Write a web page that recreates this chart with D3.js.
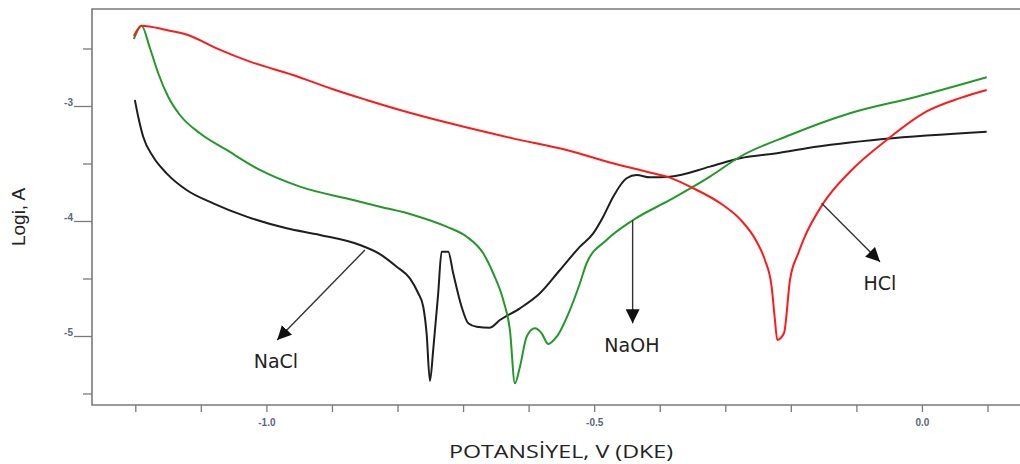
<!DOCTYPE html>
<html>
<head>
<meta charset="utf-8">
<script src="https://cdn.jsdelivr.net/npm/d3@7"></script>
<style>
  body { margin: 0; background: #fff; }
  svg { display: block; }
</style>
</head>
<body>
<svg id="chart" width="1020" height="464"></svg>
<script>
// potential (V) / log i readings for each solution
var hclV = [-1.2029, -1.1912, -1.1530, -1.1205, -1.0767, -1.0259, -0.9603, -0.8993, -0.8479, -0.7971, -0.7208, -0.6247, -0.5428, -0.4722, -0.4207, -0.3852, -0.3547, -0.3043, -0.2784, -0.2529, -0.2403, -0.2301, -0.2250, -0.2215, -0.2113, -0.2021, -0.1895, -0.1817, -0.1513, -0.1106, -0.0546, 0.0064, 0.0572, 0.0980]
var hclI = [-2.387, -2.297, -2.335, -2.378, -2.494, -2.610, -2.726, -2.850, -2.943, -3.030, -3.146, -3.277, -3.378, -3.494, -3.567, -3.619, -3.697, -3.857, -3.979, -4.176, -4.335, -4.567, -4.857, -5.030, -4.972, -4.509, -4.277, -4.161, -3.842, -3.567, -3.291, -3.043, -2.927, -2.857]

var naohV = [-1.2029, -1.1912, -1.1785, -1.1658, -1.1506, -1.1327, -1.1022, -1.0615, -1.0107, -0.9497, -0.8683, -0.8276, -0.7768, -0.7259, -0.6953, -0.6700, -0.6548, -0.6395, -0.6293, -0.6217, -0.6140, -0.6038, -0.5912, -0.5809, -0.5709, -0.5580, -0.5378, -0.5225, -0.5123, -0.4818, -0.4412, -0.3852, -0.3242, -0.2784, -0.2021, -0.1106, -0.0088, 0.0980]
var naohI = [-2.413, -2.297, -2.491, -2.711, -2.915, -3.074, -3.233, -3.378, -3.552, -3.697, -3.813, -3.871, -3.943, -4.045, -4.132, -4.277, -4.450, -4.683, -4.943, -5.407, -5.263, -5.002, -4.929, -4.972, -5.065, -5.002, -4.770, -4.537, -4.363, -4.161, -3.987, -3.813, -3.610, -3.437, -3.248, -3.059, -2.915, -2.746]

var naclV = [-1.2014, -1.1963, -1.1887, -1.1735, -1.1530, -1.1225, -1.0819, -1.0310, -0.9699, -0.9191, -0.8581, -0.8276, -0.8021, -0.7819, -0.7691, -0.7615, -0.7564, -0.7513, -0.7463, -0.7387, -0.7335, -0.7234, -0.7158, -0.7030, -0.6929, -0.6801, -0.6598, -0.6446, -0.6140, -0.5835, -0.5530, -0.5225, -0.5022, -0.4870, -0.4717, -0.4513, -0.4360, -0.4157, -0.3852, -0.3242, -0.2784, -0.2174, -0.1767, -0.0598, 0.0980]
var naclI = [-2.943, -3.089, -3.263, -3.437, -3.581, -3.726, -3.842, -3.958, -4.059, -4.117, -4.204, -4.283, -4.393, -4.494, -4.624, -4.741, -4.972, -5.387, -5.117, -4.624, -4.263, -4.263, -4.450, -4.741, -4.885, -4.915, -4.923, -4.857, -4.755, -4.624, -4.422, -4.219, -4.103, -3.958, -3.784, -3.624, -3.596, -3.616, -3.610, -3.523, -3.450, -3.402, -3.363, -3.283, -3.219]

// axis ticks
var xMajor = [-1.0, -0.5, 0.0]
var xTicks = [-1.2, -1.1, -1.0, -0.9, -0.8, -0.7, -0.6, -0.5, -0.4, -0.3, -0.2, -0.1, 0.0, 0.1]
var yMajor = [-3, -4, -5]
var yTicks = [-2.5, -3, -3.5, -4, -4.5, -5, -5.5]

// arrow labels: name, arrow start (V, logi), arrow tip, text spot
var noteNames = ['NaCl', 'NaOH', 'HCl']
var noteFrom = [[-0.8505, -4.248], [-0.4421, -3.987], [-0.1538, -3.842]]
var noteTo = [[-0.9843, -5.030], [-0.4421, -4.885], [-0.0648, -4.350]]
var noteText = [[-0.9863, -5.274], [-0.4432, -5.132], [-0.0648, -4.596]]

var svg = d3.select('#chart')
var m = { left: 92, right: 1020, top: 9, bottom: 405 }

var x = d3.scaleLinear().domain([-1.2668, 0.1488]).range([m.left, m.right])
var y = d3.scaleLinear().domain([-2.1522, -5.5957]).range([m.top, m.bottom])

var axisColor = '#7a7a7a'
var tickText = '#5b6680'

// frame (top, left, bottom)
svg.append('path')
  .attr('d', 'M' + m.right + ',' + m.top + 'H' + m.left + 'V' + m.bottom + 'H' + m.right)
  .attr('fill', 'none')
  .attr('stroke', axisColor)
  .attr('stroke-width', 1.6)

// y ticks
svg.selectAll('.ytick')
  .data(yTicks)
  .enter()
  .append('line')
  .attr('x1', (d) => yMajor.indexOf(d) >= 0 ? m.left - 18 : m.left - 9)
  .attr('x2', m.left)
  .attr('y1', (d) => y(d))
  .attr('y2', (d) => y(d))
  .attr('stroke', axisColor)
  .attr('stroke-width', 1.3)

svg.selectAll('.ylab')
  .data(yMajor)
  .enter()
  .append('text')
  .attr('x', 73)
  .attr('y', (d) => y(d) - 0.5)
  .attr('text-anchor', 'end')
  .style('font-family', 'Liberation Sans, Arial, sans-serif')
  .style('font-size', '10px')
  .style('font-weight', 'bold')
  .attr('fill', tickText)
  .text((d) => d)

// x ticks
svg.selectAll('.xtick')
  .data(xTicks)
  .enter()
  .append('line')
  .attr('x1', (d) => x(d))
  .attr('x2', (d) => x(d))
  .attr('y1', m.bottom)
  .attr('y2', m.bottom + 7)
  .attr('stroke', axisColor)
  .attr('stroke-width', 1.3)

svg.selectAll('.xlab')
  .data(xMajor)
  .enter()
  .append('text')
  .attr('x', (d) => x(d))
  .attr('y', 426)
  .attr('text-anchor', 'middle')
  .style('font-family', 'Liberation Sans, Arial, sans-serif')
  .style('font-size', '10px')
  .style('font-weight', 'bold')
  .attr('fill', tickText)
  .text((d) => d.toFixed(1))

// axis titles
svg.append('text')
  .attr('x', 561)
  .attr('y', 458)
  .attr('text-anchor', 'middle')
  .attr('textLength', 224)
  .attr('lengthAdjust', 'spacingAndGlyphs')
  .style('font-family', 'Open Sans, sans-serif')
  .style('font-size', '18px')
  .attr('fill', '#222')
  .text('POTANSİYEL, V (DKE)')

svg.append('text')
  .attr('transform', 'translate(25,217) rotate(-90)')
  .attr('text-anchor', 'middle')
  .style('font-family', 'Liberation Sans, Arial, sans-serif')
  .style('font-size', '19px')
  .attr('fill', '#222')
  .text('Logi, A')

// curves
var lineGen = d3.line()
  .x((d) => x(d[0]))
  .y((d) => y(d[1]))
  .curve(d3.curveMonotoneX)

var series = [
  { v: naclV, i: naclI, color: '#1e1e1e' },
  { v: naohV, i: naohI, color: '#23992a' },
  { v: hclV, i: hclI, color: '#ff1a1a' }
]

series.forEach((s) => {
  var pts = s.v.map((v, k) => [v, s.i[k]])
  svg.append('path')
    .attr('d', lineGen(pts))
    .attr('fill', 'none')
    .attr('stroke', s.color)
    .attr('stroke-width', 2)
    .attr('stroke-linejoin', 'round')
})

// arrows and labels
svg.append('defs')
  .append('marker')
  .attr('id', 'head')
  .attr('viewBox', '0 0 10 10')
  .attr('refX', 10)
  .attr('refY', 5)
  .attr('markerWidth', 14)
  .attr('markerHeight', 14)
  .attr('markerUnits', 'userSpaceOnUse')
  .attr('orient', 'auto')
  .append('path')
  .attr('d', 'M0,0 L10,5 L0,10 z')
  .attr('fill', '#111')

noteNames.forEach((n, k) => {
  svg.append('line')
    .attr('x1', x(noteFrom[k][0]))
    .attr('y1', y(noteFrom[k][1]))
    .attr('x2', x(noteTo[k][0]))
    .attr('y2', y(noteTo[k][1]))
    .attr('stroke', '#333')
    .attr('stroke-width', 1.4)
    .attr('marker-end', 'url(#head)')

  svg.append('text')
    .attr('x', x(noteText[k][0]))
    .attr('y', y(noteText[k][1]))
    .attr('text-anchor', 'middle')
    .style('font-family', 'DejaVu Sans, sans-serif')
    .style('font-size', '19px')
    .attr('fill', '#222')
    .text(n)
})
</script>
</body>
</html>
